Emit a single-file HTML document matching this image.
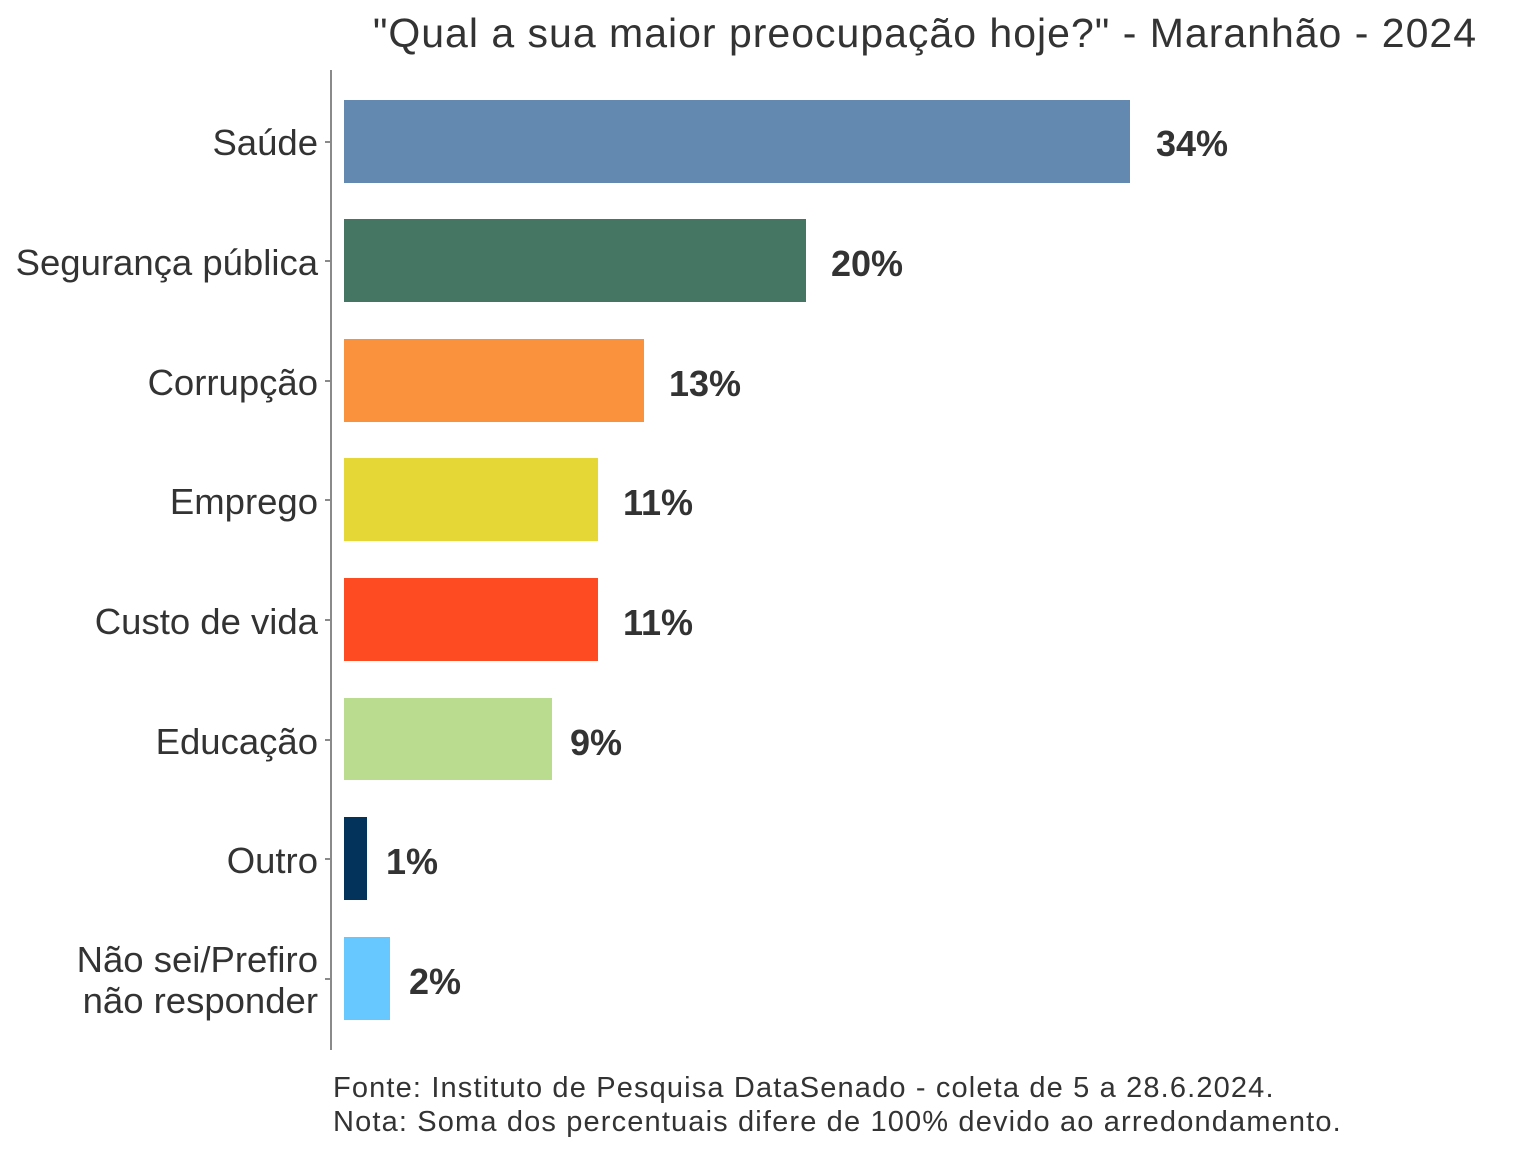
<!DOCTYPE html>
<html><head><meta charset="utf-8"><style>
html,body{margin:0;padding:0;background:#fff;}
svg text{font-family:"Liberation Sans",Arial,sans-serif;fill:#333;}
</style></head><body>
<svg width="1536" height="1152" viewBox="0 0 1536 1152" xmlns="http://www.w3.org/2000/svg">
<rect width="1536" height="1152" fill="#fff"/>
<text x="1477" y="47" font-size="41" letter-spacing="1" text-anchor="end">"Qual a sua maior preocupação hoje?" - Maranhão - 2024</text>
<line x1="331" y1="70" x2="331" y2="1050" stroke="#8a8a8a" stroke-width="2"/>
<g stroke="#8a8a8a" stroke-width="2">
<line x1="325" y1="142" x2="331" y2="142"/>
<line x1="325" y1="261" x2="331" y2="261"/>
<line x1="325" y1="381" x2="331" y2="381"/>
<line x1="325" y1="500" x2="331" y2="500"/>
<line x1="325" y1="620" x2="331" y2="620"/>
<line x1="325" y1="740" x2="331" y2="740"/>
<line x1="325" y1="859" x2="331" y2="859"/>
<line x1="325" y1="979" x2="331" y2="979"/>
</g>
<rect x="344" y="100" width="786" height="83" fill="#6489b0"/>
<rect x="344" y="219" width="462" height="83" fill="#457563"/>
<rect x="344" y="339" width="300" height="83" fill="#fa923d"/>
<rect x="344" y="458" width="254" height="83" fill="#e5d836"/>
<rect x="344" y="578" width="254" height="83" fill="#ff4b22"/>
<rect x="344" y="698" width="208" height="82" fill="#badc8f"/>
<rect x="344" y="817" width="23" height="83" fill="#03325a"/>
<rect x="344" y="937" width="46" height="83" fill="#66c8ff"/>
<g font-size="36.5" text-anchor="end">
<text x="318" y="155">Saúde</text>
<text x="318" y="275">Segurança pública</text>
<text x="318" y="395">Corrupção</text>
<text x="318" y="514">Emprego</text>
<text x="318" y="634">Custo de vida</text>
<text x="318" y="754">Educação</text>
<text x="318" y="873">Outro</text>
<text x="318" y="972">Não sei/Prefiro</text>
<text x="318" y="1013">não responder</text>
</g>
<g font-size="36" font-weight="bold">
<text x="1156" y="156">34%</text>
<text x="831" y="276">20%</text>
<text x="669" y="396">13%</text>
<text x="623" y="515">11%</text>
<text x="623" y="635">11%</text>
<text x="570" y="755">9%</text>
<text x="386" y="874">1%</text>
<text x="409" y="994">2%</text>
</g>
<g font-size="29" letter-spacing="1.15">
<text x="333" y="1097">Fonte: Instituto de Pesquisa DataSenado - coleta de 5 a 28.6.2024.</text>
<text x="333" y="1131">Nota: Soma dos percentuais difere de 100% devido ao arredondamento.</text>
</g>
</svg>
</body></html>
